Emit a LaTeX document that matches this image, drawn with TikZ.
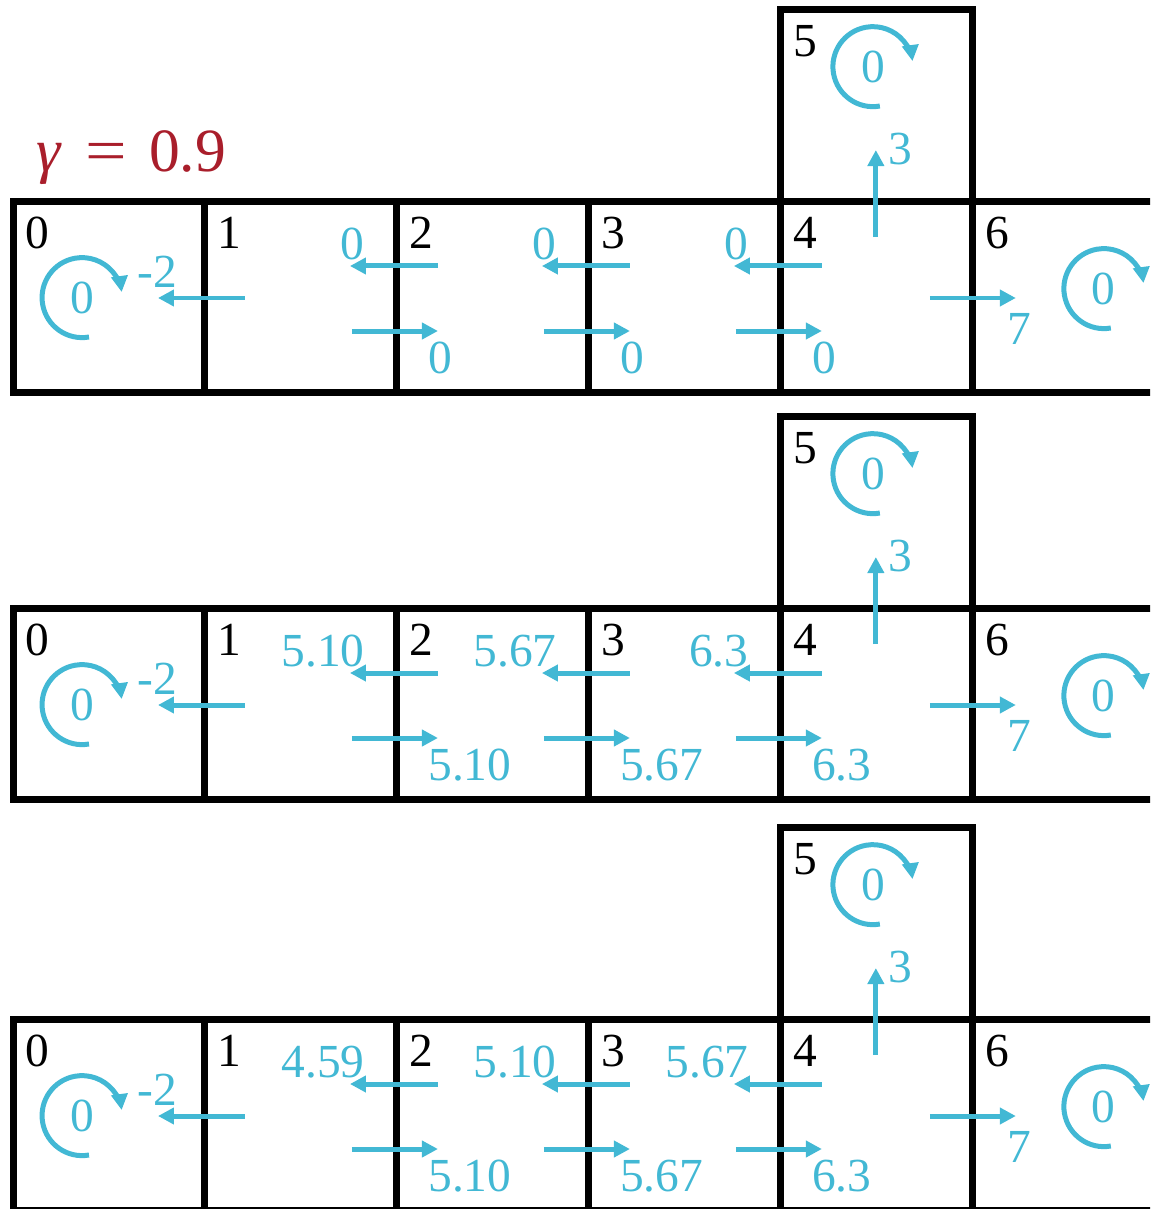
\documentclass[tikz,border=0pt]{standalone}
\usepackage{fontspec}
\setmainfont{Liberation Serif}
\usepackage{tikz}
\usetikzlibrary{positioning,calc,arrows.meta}
\definecolor{valblue}{RGB}{66,184,212}
\definecolor{gammared}{RGB}{169,30,43}

\tikzset{
  cell/.style={draw, line width=0.14cm, minimum width=3.84cm, minimum height=3.84cm, inner sep=0pt, outer sep=0pt},
  num/.style={anchor=base west, inner sep=0pt},
  val/.style={text=valblue, inner sep=0pt},
  move/.style={valblue, line width=0.1cm, -{Triangle[length=0.32cm, width=0.32cm]}},
}

\begin{document}
\begin{tikzpicture}[x=0.02cm, y=-0.02cm, every node/.style={font=\fontsize{27}{32}\selectfont}]
  \useasboundingbox (0,0) rectangle (1150,1209);
  \clip (0,0) rectangle (1150,1209);

  \node[text=gammared, anchor=base west, inner sep=0pt, font=\fontsize{35}{40}\selectfont] (gamma) at (36,172)
      {\textit{γ}\hspace{0.38em}\scalebox{1.2}[1]{=}\hspace{0.36em}0.9};

  \foreach \p/\dy/\la/\lb/\lc/\ra/\rb/\rc in {1/0/0/0/0/0/0/0, 2/407/5.10/5.67/6.3/5.10/5.67/6.3, 3/818/4.59/5.10/5.67/5.10/5.67/6.3}{
    % grid of states
    \node[cell] (p\p-c0) at (109,{297+\dy}) {};
    \node[cell, right=0cm of p\p-c0] (p\p-c1) {};
    \node[cell, right=0cm of p\p-c1] (p\p-c2) {};
    \node[cell, right=0cm of p\p-c2] (p\p-c3) {};
    \node[cell, right=0cm of p\p-c3] (p\p-c4) {};
    \node[cell, above=0cm of p\p-c4] (p\p-c5) {};
    \node[cell, right=0cm of p\p-c4] (p\p-c6) {};
    \foreach \i in {0,...,6}
      \node[num] (p\p-n\i) at ($(p\p-c\i.north west)+(12,47)$) {\i};

    % moves to the left
    \foreach \i/\j/\v in {1/2/\la, 2/3/\lb, 3/4/\lc}{
      \coordinate (p\p-lt\j) at ($(p\p-c\j.west)+(41,-31)$);
      \coordinate (p\p-lh\j) at ($(p\p-c\j.west)+(-47,-31)$);
      \draw[move] (p\p-lt\j) -- (p\p-lh\j);
      \node[val, anchor=base east] (p\p-lv\j) at ($(p\p-c\i.north east)+(-32,58)$) {\v};
    }
    % moves to the right
    \foreach \j/\v in {2/\ra, 3/\rb, 4/\rc}{
      \coordinate (p\p-rt\j) at ($(p\p-c\j.west)+(-45,34)$);
      \coordinate (p\p-rh\j) at ($(p\p-c\j.west)+(41,34)$);
      \draw[move] (p\p-rt\j) -- (p\p-rh\j);
      \node[val, anchor=base west] (p\p-rv\j) at ($(p\p-c\j.south west)+(31,-19)$) {\v};
    }

    % 1 -> 0, 4 -> 6, 4 -> 5
    \coordinate (p\p-t0) at ($(p\p-c1.west)+(40,1)$);
    \coordinate (p\p-h0) at ($(p\p-c1.west)+(-47,1)$);
    \draw[move] (p\p-t0) -- (p\p-h0);
    \node[val, anchor=base west] (p\p-r0) at ($(p\p-c0.north east)+(-68,86)$) {-2};
    \coordinate (p\p-t6) at ($(p\p-c6.west)+(-43,1)$);
    \coordinate (p\p-h6) at ($(p\p-c6.west)+(43,1)$);
    \draw[move] (p\p-t6) -- (p\p-h6);
    \node[val, anchor=base west] (p\p-r6) at ($(p\p-c6.north west)+(34,143)$) {7};
    \coordinate (p\p-t5) at ($(p\p-c5.south)+(-1,36)$);
    \coordinate (p\p-h5) at ($(p\p-c5.south)+(-1,-51)$);
    \draw[move] (p\p-t5) -- (p\p-h5);
    \node[val, anchor=base west] (p\p-r5) at ($(p\p-c5.south)+(11,-37)$) {3};

    % self loops
    \foreach \k/\ox/\oy in {0/-27/1, 5/-4/-38, 6/35/-8}{
      \coordinate (p\p-o\k) at ($(p\p-c\k.center)+(\ox,\oy)$);
      \coordinate (p\p-os\k) at ($(p\p-o\k)+(7,39)$);
      \node[val] (p\p-s\k) at (p\p-o\k) {0};
      \draw[move] (p\p-os\k) arc[start angle=80, end angle=352, radius=40];
    }
  }
\end{tikzpicture}
\end{document}
